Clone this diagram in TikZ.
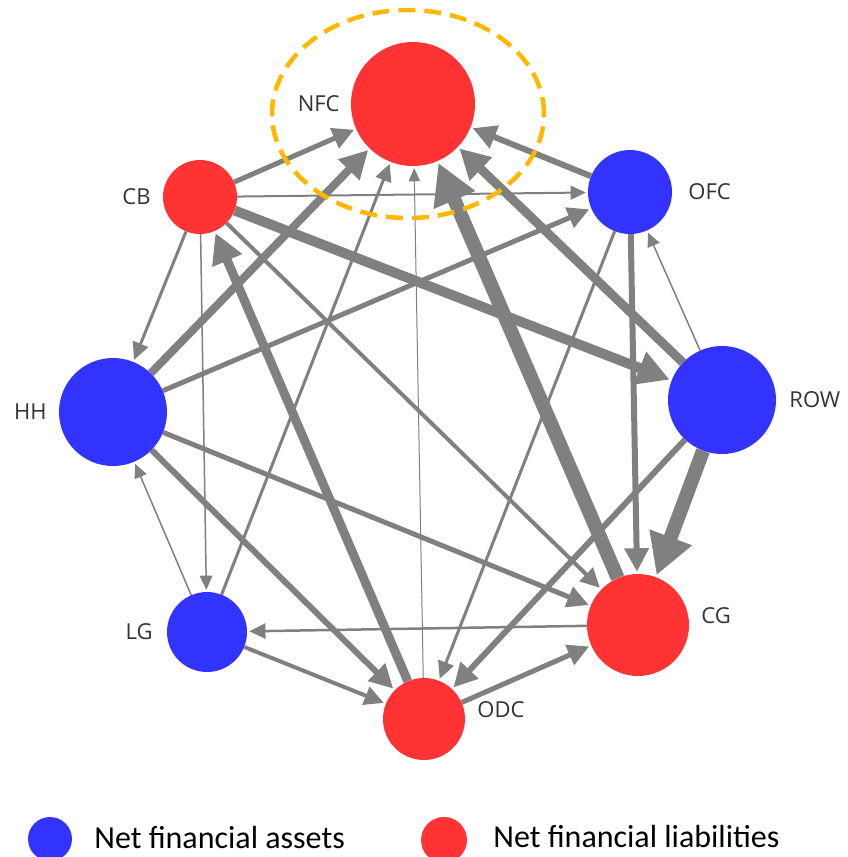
\documentclass[tikz,border=0pt]{standalone}
\usepackage{fontspec}
\usetikzlibrary{positioning,arrows.meta,shapes.geometric,backgrounds}
\newfontfamily\nodefont{Open Sans}
\newfontfamily\keyfont{Carlito}
\definecolor{assetblue}{RGB}{51,51,255}
\definecolor{liabred}{RGB}{255,51,51}
\definecolor{flowgray}{RGB}{128,128,128}
\definecolor{ringgold}{RGB}{255,184,0}

\begin{document}
\begin{tikzpicture}[x=1pt, y=-1pt,
  sector/.style={circle, inner sep=0pt, minimum size=#1},
  asset/.style ={sector=#1, fill=assetblue},
  liab/.style  ={sector=#1, fill=liabred},
  labl/.style  ={font=\nodefont\fontsize{22}{25}\selectfont, text=black!80, inner sep=0pt},
  keytxt/.style={font=\keyfont\fontsize{32}{36}\selectfont, text=black, inner sep=0pt},
  flow/.style  ={draw=flowgray, line width=#1, shorten >=2pt,
                 -{Triangle[length=11pt 2.1, width=9pt 2.4]}},
  ring/.style  ={draw=ringgold, ellipse, line width=4.5pt,
                 dash pattern=on 17pt off 9pt}]

\useasboundingbox (0,0) rectangle (848,857);

%% ── Sectors ──────────────────────────────────────────────────────
\node[liab=124pt]  (NFC) at (413,104) {};
\node[liab=74pt]   (CB)  at (200,197) {};
\node[asset=84pt]  (OFC) at (630,192) {};
\node[asset=108pt] (HH)  at (113,412) {};
\node[asset=108pt] (ROW) at (722,400) {};
\node[asset=80pt]  (LG)  at (207,632) {};
\node[liab=102pt]  (CG)  at (638,625) {};
\node[liab=82pt]   (ODC) at (424,719) {};

%% ── Sector labels ────────────────────────────────────────────────
\node[labl, left=11pt of NFC]              (NFC-l) {NFC};
\node[labl, left=12pt of CB]               (CB-l)  {CB};
\node[labl, right=16pt of OFC]             (OFC-l) {OFC};
\node[labl, left=12pt of HH]               (HH-l)  {HH};
\node[labl, right=13pt of ROW]             (ROW-l) {ROW};
\node[labl, left=14pt of LG]               (LG-l)  {LG};
\node[labl, right=12pt of CG, yshift=9pt]  (CG-l)  {CG};
\node[labl, right=12pt of ODC, yshift=9pt] (ODC-l) {ODC};

%% ── Highlight round NFC ──────────────────────────────────────────
\node[ring, minimum width=272pt, minimum height=208pt] (focus) at (408,114) {};

%% ── Flows (behind the sectors) ───────────────────────────────────
\begin{scope}[on background layer]
% into NFC
\draw[flow=5pt]   (CB)  -- (NFC);
\draw[flow=8pt]   (HH)  -- (NFC);
\draw[flow=3pt]   (LG)  -- (NFC);
\draw[flow=1pt]   (ODC) -- (NFC);
\draw[flow=14pt]  (CG)  -- (NFC);
\draw[flow=9pt]   (ROW) -- (NFC);
\draw[flow=6pt]   (OFC) -- (NFC);
% from CB
\draw[flow=2pt]   (CB)  -- (OFC);
\draw[flow=3pt]   (CB)  -- (HH);
\draw[flow=1.5pt] (CB)  -- (LG);
\draw[flow=10pt]  (CB)  -- (ROW);
\draw[flow=4pt]   (CB)  -- (CG);
% from HH and LG
\draw[flow=5pt]   (HH)  -- (OFC);
\draw[flow=5pt]   (HH)  -- (CG);
\draw[flow=6pt]   (HH)  -- (ODC);
\draw[flow=1.5pt] (LG)  -- (HH);
\draw[flow=4pt]   (LG)  -- (ODC);
% from ODC
\draw[flow=9pt]   (ODC) -- (CB);
\draw[flow=5pt]   (ODC) -- (CG);
% from ROW, OFC and CG
\draw[flow=1.5pt] (ROW) -- (OFC);
\draw[flow=14pt]  (ROW) -- (CG);
\draw[flow=6pt]   (ROW) -- (ODC);
\draw[flow=6pt]   (OFC) -- (CG);
\draw[flow=3pt]   (OFC) -- (ODC);
\draw[flow=2.5pt] (CG)  -- (LG);
\end{scope}

%% ── Legend ───────────────────────────────────────────────────────
\node[asset=44pt] (keyA) at (50,839)  {};
\node[keytxt, right=22pt of keyA, yshift=2pt] (keyA-t) {Net financial assets};
\node[liab=46pt]  (keyL) at (444,840) {};
\node[keytxt, right=26pt of keyL, yshift=4pt] (keyL-t) {Net financial liabilities};
\end{tikzpicture}
\end{document}
